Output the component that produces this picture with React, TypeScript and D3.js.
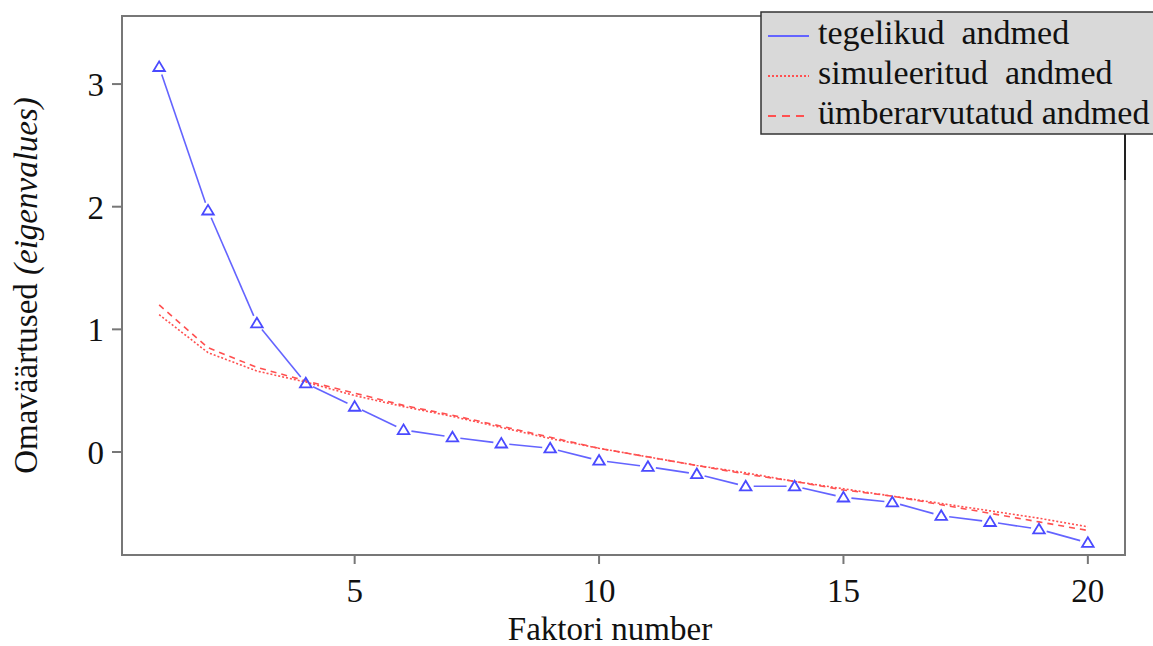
import React from "react";
import * as d3 from "d3";

const factors = d3.range(1, 21);
const actualData = [3.14, 1.97, 1.05, 0.56, 0.37, 0.18, 0.12, 0.07, 0.03, -0.07, -0.12, -0.18, -0.28, -0.28, -0.37, -0.41, -0.52, -0.57, -0.63, -0.74];
const simulatedData = [1.12, 0.81, 0.66, 0.57, 0.46, 0.37, 0.29, 0.20, 0.11, 0.03, -0.04, -0.11, -0.17, -0.24, -0.30, -0.36, -0.42, -0.48, -0.54, -0.61];
const resampledData = [1.20, 0.85, 0.69, 0.58, 0.48, 0.38, 0.30, 0.21, 0.12, 0.03, -0.04, -0.11, -0.18, -0.24, -0.31, -0.36, -0.43, -0.50, -0.57, -0.64];
const xTicks = [5, 10, 15, 20];
const yTicks = [0, 1, 2, 3];
const legendLabels = ["tegelikud  andmed", "simuleeritud  andmed", "ümberarvutatud andmed"];

const W = 1153, H = 646;
const L = 122, R = 1125, T = 16, B = 555;
const FONT = "'Liberation Serif', 'Times New Roman', serif";
const BLUE = "#6464ff";
const BLUE_PT = "#4a4aff";
const RED = "#ff5050";

export default function App() {
  const x = d3.scaleLinear().domain([0.24, 20.76]).range([L, R]);
  const y = d3.scaleLinear().domain([-0.84, 3.555]).range([B, T]);

  const line = d3.line<number>().x((_, i) => x(factors[i])).y((d) => y(d));

  // blue segments with gaps around points (type = "b")
  const gap = 8;
  const segs: string[] = [];
  for (let i = 0; i < actualData.length - 1; i++) {
    const x1 = x(factors[i]), y1 = y(actualData[i]);
    const x2 = x(factors[i + 1]), y2 = y(actualData[i + 1]);
    const len = Math.hypot(x2 - x1, y2 - y1);
    if (len <= 2 * gap) continue;
    const ux = (x2 - x1) / len, uy = (y2 - y1) / len;
    segs.push(`M${x1 + ux * gap},${y1 + uy * gap}L${x2 - ux * gap},${y2 - uy * gap}`);
  }

  const tri = (cx: number, cy: number) => {
    const s = 5.5;
    return `M${cx},${cy - s}L${cx + s * 1.05},${cy + s * 0.75}L${cx - s * 1.05},${cy + s * 0.75}Z`;
  };

  const legX = 761, legY = 12, legH = 122;
  const rowY = [36, 76, 116];

  return (
    <svg width={W} height={H} style={{ position: "absolute", left: 0, top: 0, background: "#fff" }} fontFamily={FONT}>
      {/* red lines */}
      <path d={line(simulatedData) || ""} fill="none" stroke={RED} strokeWidth={1.6} strokeDasharray="2 2" />
      <path d={line(resampledData) || ""} fill="none" stroke={RED} strokeWidth={1.6} strokeDasharray="6 5" />
      {/* blue line */}
      {segs.map((d, i) => (
        <path key={i} d={d} fill="none" stroke={BLUE} strokeWidth={1.6} />
      ))}
      {actualData.map((v, i) => (
        <path key={i} d={tri(x(factors[i]), y(v))} fill="none" stroke={BLUE_PT} strokeWidth={1.8} />
      ))}

      {/* frame */}
      <rect x={L} y={T} width={R - L} height={B - T} fill="none" stroke="#777" strokeWidth={2} />
      <line x1={R} x2={R} y1={134} y2={180} stroke="#222" strokeWidth={2} />

      {/* x axis */}
      {xTicks.map((t) => (
        <g key={t}>
          <line x1={x(t)} x2={x(t)} y1={B} y2={B + 9} stroke="#777" strokeWidth={2} />
          <text x={x(t)} y={602} textAnchor="middle" fontSize={33} fill="#111">{t}</text>
        </g>
      ))}
      <text x={610} y={640} textAnchor="middle" fontSize={33} fill="#111">Faktori number</text>

      {/* y axis */}
      {yTicks.map((t) => (
        <g key={t}>
          <line x1={L - 10} x2={L} y1={y(t)} y2={y(t)} stroke="#777" strokeWidth={2} />
          <text x={104} y={y(t) + 12} textAnchor="end" fontSize={33} fill="#111">{t}</text>
        </g>
      ))}
      <text transform={`translate(37, ${(T + B) / 2}) rotate(-90)`} textAnchor="middle" fontSize={33} fill="#111">
        Omaväärtused <tspan fontStyle="italic">(eigenvalues)</tspan>
      </text>

      {/* legend */}
      <rect x={legX} y={legY} width={W - legX + 20} height={legH} fill="#d9d9d9" stroke="#333" strokeWidth={1.5} />
      <line x1={768} x2={809} y1={rowY[0]} y2={rowY[0]} stroke={BLUE} strokeWidth={1.8} />
      <line x1={768} x2={809} y1={rowY[1]} y2={rowY[1]} stroke={RED} strokeWidth={1.8} strokeDasharray="2 2" />
      <line x1={768} x2={809} y1={rowY[2]} y2={rowY[2]} stroke={RED} strokeWidth={1.8} strokeDasharray="8 6" />
      {legendLabels.map((lab, i) => (
        <text key={i} x={818} y={rowY[i] + 8} fontSize={34} fill="#111" style={{ whiteSpace: "pre" }}>{lab}</text>
      ))}
    </svg>
  );
}
